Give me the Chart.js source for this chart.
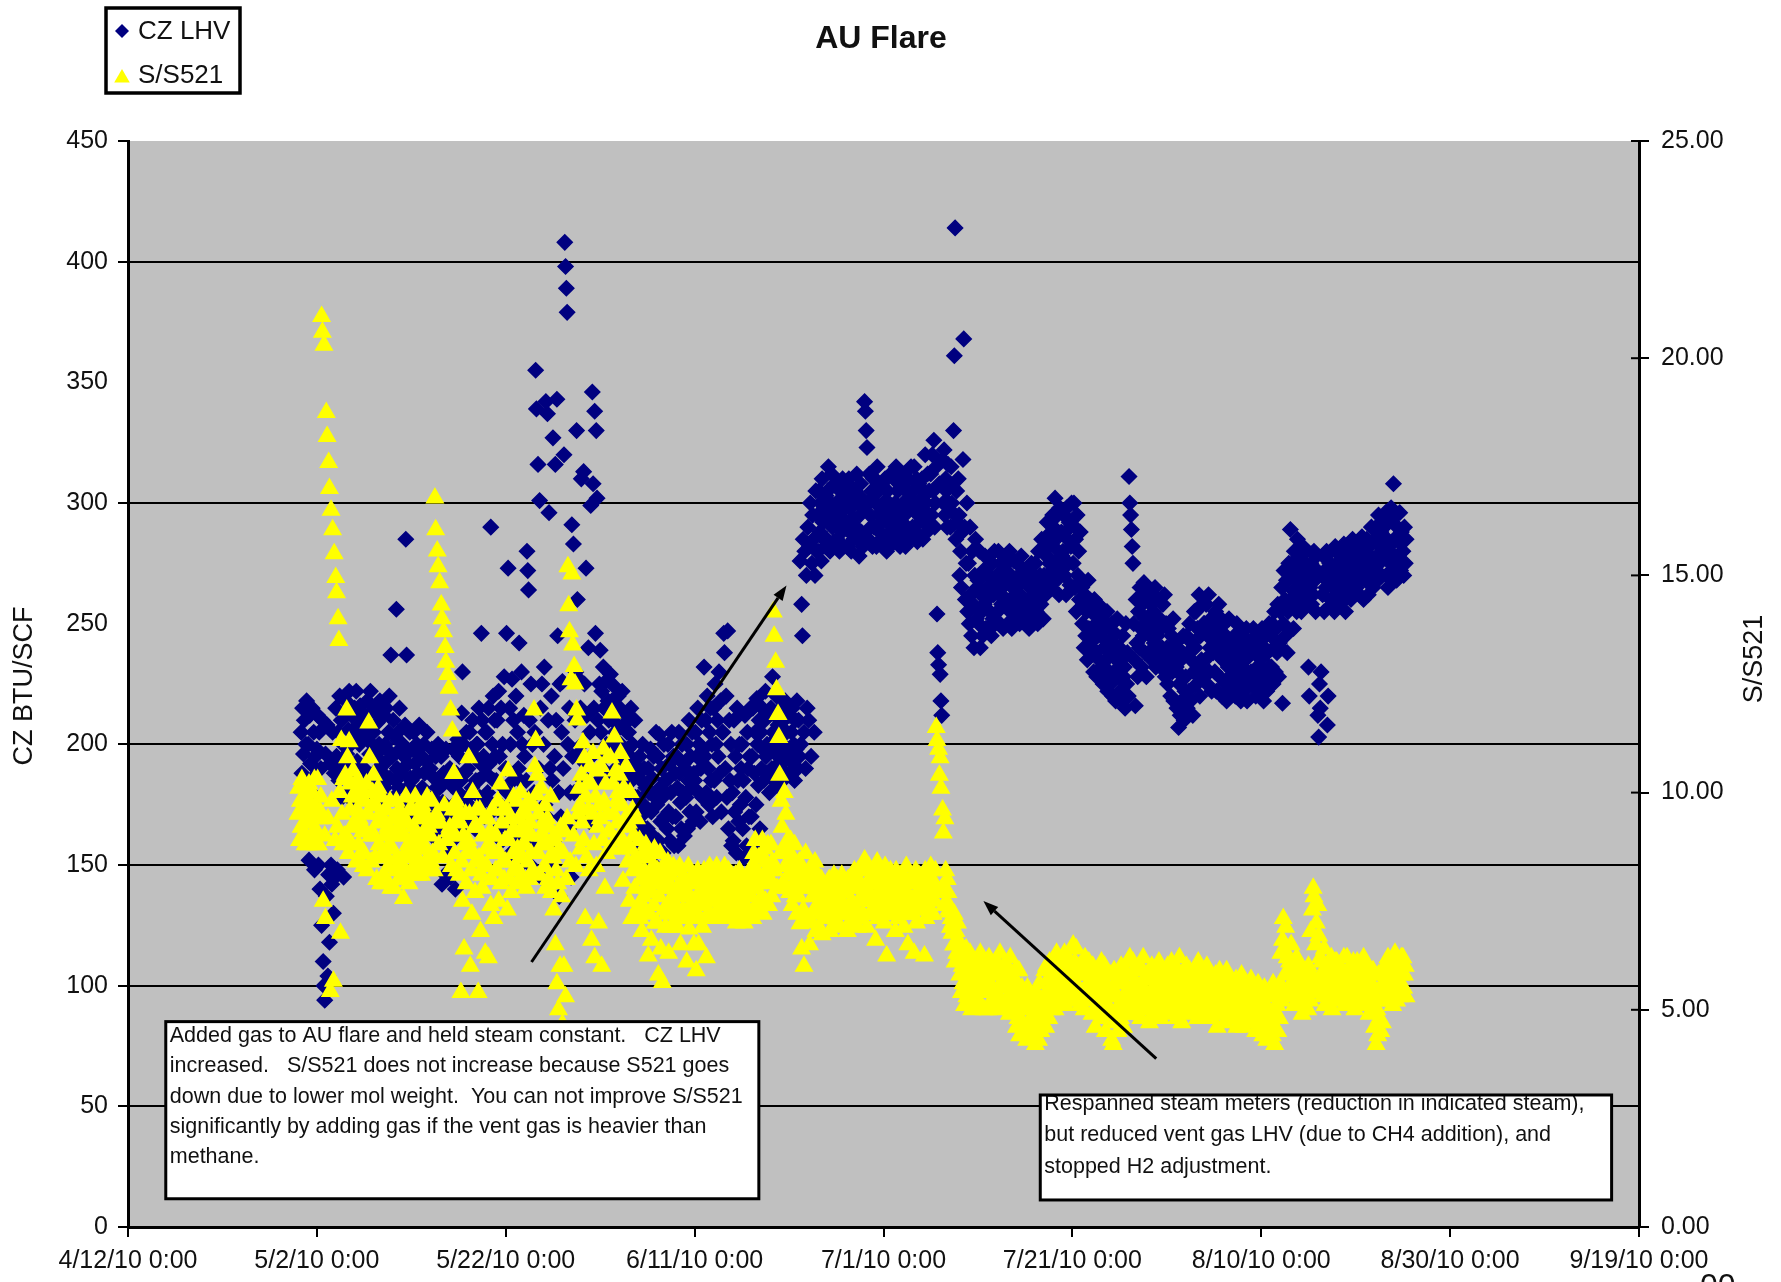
<!DOCTYPE html>
<html>
<head>
<meta charset="utf-8">
<title>AU Flare</title>
<script src="https://cdn.jsdelivr.net/npm/chart.js@4.4.1/dist/chart.umd.min.js"></script>
<style>
  html, body { margin: 0; padding: 0; background: #ffffff; }
  #frame { position: relative; width: 1781px; height: 1282px; }
</style>
</head>
<body>
<div id="frame"><canvas id="flare" width="1781" height="1282"></canvas></div>
<script>
// Readings every 2 hours; day numbers count from 4/12/10 0:00, first reading on day 18.
const firstDay = 18;
const samplesPerDay = 12;

// CZ LHV, BTU/SCF (left axis) - one row per day
const czLhv = [
  null,null,null,null,205,188,215,196,210,184,200,218,
  183,200,152,212,192,160,215,186,205,148,195,178,
  198,212,150,205,140,190,125,210,110,100,94,196,
  137,208,104,146,118,192,150,142,205,130,188,145,
  215,195,148,205,185,220,192,210,178,200,145,212,
  188,218,196,180,206,222,190,200,212,184,202,176,
  215,185,222,193,208,182,200,216,178,205,190,212,
  190,212,178,203,218,186,208,196,222,182,200,214,
  205,182,214,195,176,209,190,200,218,185,198,178,
  188,212,182,200,215,193,178,205,220,186,237,196,
  195,210,178,203,185,256,190,205,182,215,198,175,
  188,200,172,195,208,285,237,182,192,178,205,186,
  185,198,172,205,180,192,168,200,188,176,208,195,
  175,195,182,168,200,188,172,193,205,178,190,165,
  190,170,198,178,165,186,175,195,182,160,200,172,
  182,165,195,142,176,188,160,146,198,170,185,155,
  170,190,145,183,160,198,175,165,140,188,168,202,
  180,195,168,185,213,230,200,172,188,165,205,178,
  190,175,205,168,198,182,210,172,195,165,185,200,
  200,185,215,178,192,246,210,176,195,170,205,188,
  205,180,215,192,176,290,172,200,220,185,210,195,
  185,210,165,222,195,175,215,160,200,182,228,170,
  190,246,180,273,165,215,200,155,227,185,210,170,
  175,220,160,205,190,242,185,150,230,200,168,212,
  195,165,185,280,272,264,210,150,225,178,200,160,
  180,205,355,339,160,316,190,301,215,145,225,170,
  200,232,175,342,170,337,210,296,190,150,220,185,
  327,160,195,316,210,343,245,180,137,225,170,205,
  226,190,320,408,398,389,379,200,165,215,180,145,
  291,195,283,180,210,230,330,260,196,227,170,215,
  310,200,185,313,225,192,273,212,185,240,168,205,
  299,195,346,308,215,338,246,330,302,210,185,225,
  239,205,222,190,232,215,195,226,200,187,218,210,
  200,229,187,218,210,195,224,205,190,215,198,220,
  190,215,200,185,222,195,208,188,212,180,205,198,
  205,180,195,215,185,200,170,192,210,178,188,165,
  178,160,195,170,185,156,200,175,190,165,182,152,
  165,190,180,158,198,172,186,162,195,150,178,205,
  175,195,160,204,182,168,190,178,155,200,170,185,
  185,165,200,172,192,160,180,205,170,195,158,188,
  170,195,182,158,205,188,176,165,200,180,192,162,
  190,178,200,165,185,210,172,195,182,205,168,188,
  185,205,172,195,215,180,200,168,190,210,178,198,
  232,195,210,180,220,190,175,205,215,185,200,170,
  215,185,225,200,178,210,195,230,188,218,172,205,
  205,246,238,190,220,178,247,165,210,185,200,158,
  180,160,210,172,195,155,215,185,168,200,175,190,
  200,165,185,153,212,178,158,205,190,170,195,215,
  170,195,215,158,188,205,175,219,200,183,210,165,
  205,190,215,198,185,210,222,195,200,188,212,180,
  200,215,190,228,205,185,212,196,220,183,208,192,
  208,192,215,200,185,210,195,218,188,205,198,212,
  195,212,188,205,215,192,200,185,210,198,218,190,
  210,195,276,200,258,245,285,205,280,190,270,215,
  290,210,282,300,195,275,295,285,205,270,305,280,
  295,280,305,288,300,276,310,292,285,298,282,303,
  285,305,315,295,280,300,312,290,298,284,308,292,
  300,285,308,292,280,305,296,288,310,282,298,302,
  292,305,282,300,310,288,298,280,306,294,285,302,
  305,290,312,285,300,278,295,308,288,302,282,298,
  342,338,330,323,300,285,312,295,290,305,282,310,
  290,310,300,282,315,295,305,288,298,285,308,292,
  300,285,310,295,280,305,292,300,288,312,296,283,
  295,310,288,300,315,285,305,292,298,282,308,290,
  288,300,312,295,282,305,290,310,298,285,302,315,
  305,290,300,315,288,296,310,284,298,308,292,302,
  298,310,285,305,292,320,300,288,312,295,305,290,
  312,295,320,305,326,290,300,315,254,238,233,308,
  229,218,212,318,300,322,295,310,305,290,316,300,
  308,290,315,300,296,330,361,414,285,305,292,310,
  295,270,280,265,288,318,368,290,260,275,300,255,
  275,250,290,262,245,280,258,240,270,285,252,265,
  268,250,280,240,262,255,245,272,258,278,248,265,
  260,248,270,255,265,245,275,252,262,280,250,268,
  270,255,280,262,250,275,258,265,248,272,260,278,
  260,275,250,268,280,255,270,248,265,258,276,262,
  265,252,275,258,270,250,262,278,255,268,260,272,
  255,268,250,272,260,248,265,258,275,252,262,270,
  262,275,255,268,250,280,260,270,258,285,265,252,
  270,285,262,278,292,268,282,275,265,288,272,295,
  290,275,302,285,268,295,280,262,298,272,288,278,
  280,295,270,288,262,298,285,275,292,266,282,300,
  291,275,300,265,285,255,295,270,280,260,288,268,
  265,250,258,240,262,245,255,235,268,248,260,242,
  255,240,248,230,260,238,250,228,245,258,235,252,
  245,232,252,225,240,228,248,235,255,222,242,230,
  238,225,250,220,242,230,246,218,235,252,228,240,
  240,222,235,218,245,228,232,215,250,225,238,220,
  311,300,295,289,282,275,250,235,216,260,242,228,
  255,240,265,248,232,258,245,267,238,252,228,262,
  250,238,262,245,258,235,248,255,242,265,232,252,
  245,260,238,252,232,248,240,258,235,262,228,250,
  240,225,248,232,238,220,245,230,252,218,235,242,
  232,215,240,207,225,212,235,218,228,245,210,222,
  228,245,215,238,222,250,218,235,242,212,230,255,
  240,255,225,248,232,262,220,245,235,258,228,250,
  250,235,258,225,245,262,230,240,252,222,248,238,
  245,230,255,222,248,238,258,228,242,252,220,235,
  235,250,225,245,218,240,232,252,228,242,222,238,
  240,228,245,220,235,250,225,238,230,246,218,242,
  232,245,222,240,228,248,218,236,242,225,238,230,
  240,225,248,230,238,220,245,232,228,242,222,236,
  235,248,225,218,240,230,245,222,238,228,250,232,
  245,232,250,225,240,255,230,248,238,258,228,242,
  255,240,265,217,250,272,260,245,268,238,255,275,
  270,289,258,275,264,248,280,262,272,255,285,268,
  272,260,278,255,268,282,262,275,265,280,258,270,
  232,220,265,275,258,270,262,280,268,255,278,272,
  212,203,225,215,230,270,262,278,255,272,265,280,
  208,220,268,275,260,280,258,272,265,255,282,270,
  275,262,280,268,258,278,265,272,260,283,270,255,
  270,280,262,275,268,282,260,276,285,265,272,278,
  278,265,282,270,275,262,280,268,286,272,260,276,
  280,268,285,275,262,282,270,278,290,272,265,284,
  285,272,290,278,268,295,275,282,288,270,292,280,
  290,278,296,270,285,265,292,280,275,298,283,272,
  308,285,275,295,268,290,278,284,296,272,288,280,
  280,270,290,275,285,null,null,null,null,null,null,null
];

// S/S521 (right axis) - one row per day
const ssRatio = [
  9.5,10.1,8.9,9.8,9.2,10.3,9.0,9.6,9.9,8.8,10.0,9.3,
  9.9,8.8,10.2,9.3,9.7,8.9,10.0,9.4,9.1,10.3,8.8,9.6,
  9.1,10.3,8.8,9.6,9.4,9.9,20.96,20.6,7.5,20.3,9.0,7.1,
  18.75,18.2,9.4,17.6,17.0,5.42,16.5,9.8,16.05,5.66,15.5,8.9,
  14.95,14.6,9.2,14.0,13.5,10.0,6.76,11.2,9.5,8.8,10.3,9.0,
  10.4,9.0,11.9,10.8,8.6,11.17,9.6,10.2,8.8,9.9,10.5,9.3,
  9.2,10.0,8.4,9.6,10.3,8.8,9.4,9.9,8.6,10.1,9.1,8.3,
  8.6,9.8,9.1,10.2,8.2,9.5,11.6,10.8,9.0,8.4,9.7,10.0,
  10.4,9.0,8.5,9.7,8.0,9.3,10.1,8.8,9.5,7.9,9.9,8.6,
  9.4,8.1,9.0,7.9,9.6,8.5,9.2,8.3,8.8,9.8,7.8,9.1,
  8.7,9.4,7.8,9.0,8.2,9.8,8.5,9.1,8.0,9.6,8.4,9.3,
  9.5,8.3,7.56,9.0,8.6,9.9,8.1,9.3,8.8,7.9,9.6,8.5,
  8.9,9.6,8.2,9.2,8.6,9.9,8.4,9.0,8.1,9.4,8.7,9.7,
  9.4,8.1,9.7,8.8,9.1,8.3,9.5,8.7,9.9,8.5,9.2,8.2,
  9.0,8.4,9.8,8.6,9.3,8.2,16.78,16.05,9.5,15.56,15.2,8.8,
  14.83,9.3,14.32,14.0,8.5,13.7,9.7,13.34,13.0,8.9,12.72,9.1,
  12.4,9.2,11.9,8.3,11.42,9.6,10.44,8.6,9.0,9.8,8.2,9.4,
  9.6,8.1,9.3,5.4,8.4,7.5,9.0,6.4,8.8,9.5,7.9,8.6,
  8.9,10.8,9.5,6.0,8.2,7.2,10.0,8.6,9.2,7.7,8.4,9.6,
  9.2,5.4,8.5,9.6,6.8,8.1,7.8,9.0,8.3,9.4,6.3,8.7,
  8.3,9.4,6.2,8.8,9.1,7.4,8.0,9.6,8.6,7.1,9.0,8.2,
  9.0,8.2,9.8,7.5,8.6,10.2,7.9,9.3,8.4,9.6,8.0,8.9,
  8.4,9.6,7.3,10.5,8.9,8.0,9.4,7.7,9.1,8.6,9.9,8.2,
  9.1,8.3,9.8,8.7,7.9,9.4,8.5,10.0,8.1,9.2,8.8,9.6,
  8.8,9.5,7.8,9.1,8.4,9.8,8.0,9.3,8.6,9.0,8.2,9.7,
  11.9,10.6,11.2,9.95,10.4,8.6,9.5,8.1,9.0,10.1,8.8,9.3,
  9.0,8.3,9.7,7.8,8.8,9.4,8.0,9.2,8.5,9.9,7.7,8.9,
  8.5,7.3,9.0,6.5,8.2,5.6,7.9,5.0,8.7,6.0,9.2,7.6,
  4.67,8.6,6.0,9.1,5.3,8.0,9.4,15.2,14.3,13.7,8.4,12.6,
  15.03,13.4,9.0,12.9,12.5,8.3,11.9,11.67,9.5,10.1,9.7,8.7,
  10.4,9.3,11.15,8.9,10.8,7.1,9.9,8.5,10.2,9.6,8.2,10.6,
  10.2,6.6,9.5,10.9,8.8,6.2,9.9,8.3,10.5,9.2,7.0,9.7,
  9.4,10.6,6.0,8.9,11.0,9.8,7.8,10.2,8.6,9.5,10.8,9.1,
  9.1,10.8,8.7,11.83,10.2,9.5,11.28,8.9,10.5,9.8,9.3,10.0,
  10.4,9.0,10.9,8.7,9.7,7.96,10.1,8.8,9.4,10.6,9.2,8.4,
  9.3,7.5,10.0,8.7,7.1,9.6,8.2,9.0,7.8,8.5,9.4,7.3,
  8.3,7.4,8.9,7.1,8.0,6.8,8.6,7.6,8.2,7.3,8.8,7.8,
  7.9,6.24,8.5,7.2,8.1,6.6,7.7,8.3,7.4,8.7,7.0,8.0,
  7.0,8.2,5.8,7.6,8.6,6.4,7.9,5.63,8.3,7.3,7.8,6.9,
  8.0,7.2,8.4,6.3,7.5,8.1,6.9,7.8,7.3,8.3,7.0,7.7,
  7.4,8.2,6.9,7.8,7.1,8.3,6.5,7.6,8.0,7.3,7.9,7.2,
  8.0,7.2,6.1,7.7,8.3,6.86,7.4,7.9,7.1,8.1,7.5,6.5,
  7.3,8.1,5.9,7.6,8.2,6.5,7.9,7.1,7.7,8.0,6.9,7.5,
  8.2,7.4,7.9,6.2,8.0,7.2,7.7,8.3,7.5,7.1,7.8,8.1,
  7.5,8.0,7.2,7.8,8.3,7.1,7.6,8.1,7.4,7.9,7.3,8.2,
  7.8,7.2,8.3,7.5,8.0,7.1,7.7,8.2,7.4,7.9,7.3,8.1,
  7.4,8.0,7.2,7.8,8.1,7.0,7.6,7.9,7.3,8.2,7.5,7.7,
  8.0,7.3,7.7,7.0,7.9,7.4,8.0,7.2,7.6,8.1,7.1,7.8,
  7.6,8.3,7.1,8.6,7.8,8.9,7.4,8.2,7.9,8.5,7.3,8.0,
  8.5,7.6,8.9,7.2,8.1,8.7,7.5,8.4,7.9,8.8,7.4,8.2,
  8.0,8.8,7.6,8.4,14.16,13.6,8.2,13.0,12.37,7.8,11.8,11.27,
  10.4,8.6,9.8,9.2,7.9,8.7,10.0,8.3,9.5,7.8,8.9,8.1,
  8.6,7.7,8.9,8.2,7.4,8.5,7.9,8.8,7.6,8.3,7.2,8.0,
  7.6,8.4,6.98,7.9,6.4,8.2,7.3,6.0,7.8,8.6,7.1,8.1,
  8.1,7.1,6.5,7.8,8.3,7.0,7.6,8.0,7.3,8.4,6.8,7.7,
  7.4,8.07,6.9,7.7,7.2,8.0,6.73,7.5,7.9,7.1,7.6,7.3,
  7.9,7.1,7.6,8.0,6.8,7.4,7.8,7.2,7.5,8.1,7.0,7.7,
  7.6,8.0,7.0,7.5,6.9,7.8,7.3,8.1,7.2,7.7,7.4,7.9,
  7.2,7.7,6.8,8.0,7.4,7.0,7.9,7.5,7.1,7.8,7.3,8.2,
  8.0,7.3,7.8,6.9,8.2,7.5,7.1,7.9,7.6,8.3,7.2,7.7,
  8.45,7.6,8.2,6.9,7.8,8.3,7.2,8.0,7.5,8.1,7.3,7.9,
  7.5,8.2,6.6,7.9,8.4,7.1,7.7,8.1,7.3,8.0,7.6,7.2,
  7.8,7.0,8.3,7.4,6.24,7.9,8.1,7.2,7.6,8.2,7.3,7.7,
  8.0,7.3,7.7,6.8,8.2,7.5,7.9,7.1,7.6,8.1,7.4,7.8,
  7.4,8.1,6.9,7.8,7.2,8.3,7.6,6.5,7.9,7.3,8.0,7.5,
  7.9,7.2,8.0,6.3,7.6,8.2,7.0,7.7,7.4,8.1,7.3,7.8,
  7.3,8.0,7.5,7.9,6.24,8.2,7.1,7.8,7.4,8.1,7.6,7.2,
  8.3,7.6,8.0,7.2,7.9,7.5,8.2,11.5,11.2,7.7,11.0,10.4,
  10.8,10.1,7.8,9.6,9.07,7.4,9.4,8.2,7.5,8.0,7.7,7.3,
  7.25,6.9,7.1,6.76,7.0,6.49,7.2,6.1,6.8,6.3,7.0,6.6,
  6.3,5.8,6.5,5.4,6.0,5.6,6.2,5.1,5.9,6.4,5.3,5.7,
  5.9,5.3,6.3,5.6,5.0,6.1,5.5,5.8,5.2,6.0,5.4,5.7,
  5.2,6.0,5.6,6.3,5.1,5.8,5.4,6.1,5.0,5.7,5.5,5.9,
  5.7,5.0,6.2,5.4,5.9,5.2,6.0,5.5,5.8,5.1,6.1,5.3,
  6.1,5.3,5.8,5.0,6.3,5.6,5.2,5.9,5.5,6.0,5.1,5.7,
  5.5,6.0,5.1,5.7,4.9,6.2,5.4,5.8,5.2,5.6,5.0,5.9,
  5.2,4.6,5.6,4.8,5.9,4.4,5.3,5.0,5.5,4.7,5.1,5.4,
  4.5,5.2,4.3,5.5,4.7,5.0,4.4,5.3,4.8,5.1,4.6,4.9,
  4.8,4.2,5.4,4.6,5.1,4.3,5.6,4.9,4.5,5.2,4.7,5.0,
  5.3,5.9,4.6,6.0,5.2,5.7,4.8,6.1,5.5,5.0,5.8,5.4,
  5.6,6.2,5.0,5.8,6.3,5.3,5.9,5.5,6.0,5.2,5.7,6.1,
  6.0,5.4,6.3,5.1,5.8,6.2,5.5,5.9,5.3,6.1,5.6,5.2,
  5.7,6.49,5.2,6.1,5.6,6.4,5.3,5.9,5.5,6.0,5.1,5.8,
  6.0,5.3,5.8,5.0,6.2,5.5,5.9,5.2,5.6,6.1,5.4,5.7,
  5.6,4.9,6.0,5.3,5.7,4.6,5.9,5.1,5.4,5.8,5.0,5.5,
  5.4,6.1,4.8,5.7,5.2,6.0,4.5,5.5,5.0,5.8,4.9,5.3,
  5.0,5.8,4.3,5.5,4.2,5.9,4.7,5.3,4.9,5.6,4.5,5.1,
  5.6,4.8,6.0,5.2,5.7,4.6,5.9,5.1,5.4,5.0,5.8,4.9,
  5.4,6.2,5.0,5.8,5.3,6.1,4.9,5.6,5.2,5.9,5.5,5.1,
  5.9,5.2,6.0,4.8,5.6,5.1,6.2,5.4,5.0,5.7,5.3,5.8,
  5.0,5.7,4.7,5.9,5.3,6.0,4.9,5.5,5.2,5.8,5.1,5.6,
  5.8,5.1,6.1,5.4,4.8,5.9,5.2,5.6,5.0,5.7,5.3,5.5,
  5.3,6.0,5.0,5.7,4.9,5.5,6.1,5.2,5.6,5.1,5.8,5.4,
  5.6,4.8,5.9,5.3,6.2,5.0,5.8,4.7,5.4,5.1,5.7,5.2,
  5.4,6.0,5.1,5.7,4.9,5.9,5.3,5.6,5.0,5.8,5.2,5.5,
  5.9,5.2,5.6,4.8,6.1,5.4,5.0,5.8,5.3,5.7,5.1,5.5,
  5.2,5.7,4.9,6.0,5.4,5.1,5.8,4.8,5.5,5.3,5.6,5.0,
  5.5,4.9,5.8,5.2,4.6,5.6,5.0,5.9,5.3,5.1,5.7,5.4,
  5.1,5.6,4.7,5.3,5.9,4.9,5.4,5.0,5.7,5.2,5.5,4.8,
  5.6,4.8,5.3,5.0,5.7,4.6,5.2,5.5,4.9,5.4,5.1,5.8,
  4.9,5.4,4.6,5.2,5.6,4.8,5.3,5.0,5.5,4.7,5.1,5.7,
  5.3,4.7,5.5,4.9,5.1,4.5,5.4,5.0,5.6,4.8,5.2,4.6,
  4.8,5.2,4.4,5.0,5.5,4.6,5.1,4.3,4.9,5.3,4.7,5.4,
  4.7,5.3,4.4,5.6,5.0,4.2,5.4,4.9,5.1,4.5,5.5,4.8,
  5.6,6.3,5.2,6.6,7.1,6.4,5.8,6.9,5.4,6.2,5.9,5.3,
  6.1,5.5,6.5,5.3,6.0,5.7,5.1,5.9,5.4,6.2,5.6,5.2,
  5.4,6.0,5.2,5.7,4.9,5.9,5.3,5.6,5.1,5.8,5.5,5.0,
  6.0,5.5,5.2,6.8,5.8,7.3,7.8,7.6,5.6,6.5,7.0,5.4,
  7.4,6.7,5.5,6.2,5.7,6.1,5.3,5.9,6.4,5.1,5.8,5.6,
  5.5,6.0,5.2,5.8,5.4,6.2,5.0,5.7,5.9,5.3,6.1,5.6,
  6.1,5.4,5.8,5.2,6.0,5.5,5.9,5.3,5.7,6.2,5.1,5.6,
  5.6,6.2,5.3,5.9,5.5,6.0,5.2,5.8,5.4,6.1,5.7,5.0,
  5.9,5.4,6.1,5.6,5.3,6.0,5.5,5.8,5.2,5.7,6.2,5.1,
  5.7,5.2,6.0,5.4,5.8,4.9,5.5,5.1,5.6,5.3,5.9,5.0,
  4.6,5.3,4.2,5.0,4.4,5.8,4.8,5.5,4.5,5.2,4.7,5.6,
  5.6,6.0,5.3,5.8,5.2,6.2,5.5,5.9,5.4,6.1,5.7,5.1,
  6.0,5.4,6.3,5.7,5.2,6.1,5.6,5.9,5.3,5.8,6.2,5.5,
  6.2,5.5,5.8,6.0,5.3,null,null,null,null,null,null,null
];

// Date labels every 20 days from 4/12/10
const dateLabels = ['4/12/10 0:00', '5/2/10 0:00', '5/22/10 0:00', '6/11/10 0:00', '7/1/10 0:00',
                    '7/21/10 0:00', '8/10/10 0:00', '8/30/10 0:00', '9/19/10 0:00'];

// Left-axis levels carrying a horizontal grid line, and levels shown without a tick mark
const gridLevels = [50, 100, 150, 200, 300, 400];
const bareTicks = [250, 350];

const noteLeftLines = [
  'Added gas to AU flare and held steam constant.   CZ LHV',
  'increased.   S/S521 does not increase because S521 goes',
  'down due to lower mol weight.  You can not improve S/S521',
  'significantly by adding gas if the vent gas is heavier than',
  'methane.'
];
const noteRightLines = [
  'Respanned steam meters (reduction in indicated steam),',
  'but reduced vent gas LHV (due to CH4 addition), and',
  'stopped H2 adjustment.'
];

// ---- drawing setup ----
const FONT = '"Liberation Sans", Arial, Helvetica, sans-serif';
const NAVY = '#000080';
const YELLOW = '#ffff00';
const PLOT_GRAY = '#c0c0c0';
const INK = '#111111';

// Text boxes and arrows, placed in (day, BTU/SCF) coordinates
const noteBoxes = [
  { corner: [4.0, 85.1], far: [66.8, 11.7], lines: noteLeftLines, inset: 4, firstBaseline: 20.5, step: 30.2 },
  { corner: [96.6, 54.7], far: [157.1, 11.2], lines: noteRightLines, inset: 4, firstBaseline: 15, step: 31.5 }
];
const noteArrows = [
  { tail: [42.73, 109.8], tip: [69.73, 265.8] },
  { tail: [108.88, 69.8], tip: [90.58, 135.1] }
];

function toPoints(values) {
  const pts = [];
  values.forEach((v, i) => {
    if (v !== null) pts.push({ x: firstDay + i / samplesPerDay, y: v });
  });
  return pts;
}

function drawDiamond(ctx, x, y, r) {
  ctx.beginPath();
  ctx.moveTo(x - r, y); ctx.lineTo(x, y - r); ctx.lineTo(x + r, y); ctx.lineTo(x, y + r);
  ctx.closePath(); ctx.fill();
}
function drawTriangle(ctx, x, y, r) {
  ctx.beginPath();
  ctx.moveTo(x, y - r); ctx.lineTo(x + r * 0.866, y + r / 2); ctx.lineTo(x - r * 0.866, y + r / 2);
  ctx.closePath(); ctx.fill();
}
function drawArrow(ctx, x1, y1, x2, y2) {
  const a = Math.atan2(y2 - y1, x2 - x1), head = 15, half = 5.5;
  const bx = x2 - head * Math.cos(a), by = y2 - head * Math.sin(a);
  ctx.strokeStyle = '#000'; ctx.lineWidth = 3; ctx.lineCap = 'butt';
  ctx.beginPath(); ctx.moveTo(x1, y1); ctx.lineTo(bx, by); ctx.stroke();
  ctx.fillStyle = '#000';
  ctx.beginPath();
  ctx.moveTo(x2, y2);
  ctx.lineTo(bx - half * Math.sin(a), by + half * Math.cos(a));
  ctx.lineTo(bx + half * Math.sin(a), by - half * Math.cos(a));
  ctx.closePath(); ctx.fill();
}

const decor = {
  id: 'decor',
  beforeDraw(chart) {
    const { ctx, chartArea: a } = chart;
    ctx.save();
    ctx.fillStyle = '#ffffff';
    ctx.fillRect(0, 0, chart.width, chart.height);
    ctx.fillStyle = PLOT_GRAY;
    ctx.fillRect(a.left, a.top, a.right - a.left, a.bottom - a.top);
    ctx.restore();
  },
  afterDatasetsDraw(chart) {
    const { ctx, scales } = chart;
    const sx = scales.x, sy = scales.y, s2 = scales.y2;
    ctx.save();
    // right-axis tick marks also reach into the plot
    ctx.strokeStyle = '#000'; ctx.lineWidth = 2;
    s2.ticks.forEach(t => {
      const py = s2.getPixelForValue(t.value);
      ctx.beginPath(); ctx.moveTo(s2.left - 8, py); ctx.lineTo(s2.left, py); ctx.stroke();
    });
    // arrows
    noteArrows.forEach(ar => {
      drawArrow(ctx, sx.getPixelForValue(ar.tail[0]), sy.getPixelForValue(ar.tail[1]),
                sx.getPixelForValue(ar.tip[0]), sy.getPixelForValue(ar.tip[1]));
    });
    // text boxes
    noteBoxes.forEach(nb => {
      const x0 = sx.getPixelForValue(nb.corner[0]), y0 = sy.getPixelForValue(nb.corner[1]);
      const x1 = sx.getPixelForValue(nb.far[0]), y1 = sy.getPixelForValue(nb.far[1]);
      ctx.fillStyle = '#ffffff';
      ctx.fillRect(x0, y0, x1 - x0, y1 - y0);
      ctx.save();
      ctx.beginPath(); ctx.rect(x0, y0, x1 - x0, y1 - y0); ctx.clip();
      ctx.fillStyle = INK;
      ctx.font = '21.5px ' + FONT;
      ctx.textAlign = 'left'; ctx.textBaseline = 'alphabetic';
      nb.lines.forEach((ln, i) => ctx.fillText(ln, x0 + nb.inset, y0 + nb.firstBaseline + i * nb.step));
      ctx.restore();
      ctx.strokeStyle = '#000'; ctx.lineWidth = 3;
      ctx.strokeRect(x0, y0, x1 - x0, y1 - y0);
    });
    ctx.restore();
  },
  afterDraw(chart) {
    const { ctx } = chart;
    ctx.save();
    ctx.fillStyle = INK;
    // title
    ctx.font = 'bold 32px ' + FONT;
    ctx.textAlign = 'center'; ctx.textBaseline = 'alphabetic';
    ctx.fillText('AU Flare', 881, 48);
    // legend box
    ctx.fillStyle = '#ffffff';
    ctx.fillRect(106, 8, 134, 85);
    ctx.strokeStyle = '#000'; ctx.lineWidth = 3.5;
    ctx.strokeRect(106, 8, 134, 85);
    ctx.fillStyle = NAVY; drawDiamond(ctx, 122, 31, 7);
    ctx.fillStyle = YELLOW; drawTriangle(ctx, 122, 78, 9);
    ctx.fillStyle = INK;
    ctx.font = '26px ' + FONT;
    ctx.textAlign = 'left'; ctx.textBaseline = 'middle';
    ctx.fillText('CZ LHV', 138, 32);
    ctx.fillText('S/S521', 138, 76);
    // axis titles
    ctx.font = '27px ' + FONT;
    ctx.textAlign = 'center'; ctx.textBaseline = 'middle';
    ctx.save(); ctx.translate(25, 686); ctx.rotate(-Math.PI / 2); ctx.fillText('CZ BTU/SCF', 0, 0); ctx.restore();
    ctx.save(); ctx.translate(1755, 659); ctx.rotate(-Math.PI / 2); ctx.fillText('S/S521', 0, 0); ctx.restore();
    // page number running off the lower edge
    ctx.font = '32px ' + FONT;
    ctx.textAlign = 'left'; ctx.textBaseline = 'alphabetic';
    ctx.fillText('00', 1700, 1296);
    ctx.restore();
  }
};

const tickFont = { family: FONT, size: 25 };
const hidden = 'rgba(0,0,0,0)';

new Chart(document.getElementById('flare'), {
  type: 'scatter',
  data: {
    datasets: [
      {
        label: 'CZ LHV', data: toPoints(czLhv), yAxisID: 'y', order: 1,
        pointStyle: 'rectRot', pointRadius: 7.5, pointHoverRadius: 7.5,
        backgroundColor: NAVY, borderColor: NAVY, borderWidth: 1.5
      },
      {
        label: 'S/S521', data: toPoints(ssRatio), yAxisID: 'y2', order: 0,
        pointStyle: 'triangle', pointRadius: 9.5, pointHoverRadius: 9.5,
        backgroundColor: YELLOW, borderColor: YELLOW, borderWidth: 1.5
      }
    ]
  },
  options: {
    responsive: false,
    animation: false,
    devicePixelRatio: 1,
    events: [],
    layout: { padding: { top: 141, left: 0, right: 0, bottom: 0 } },
    plugins: { legend: { display: false }, title: { display: false }, tooltip: { enabled: false } },
    scales: {
      x: {
        type: 'linear', position: 'bottom', min: 0, max: 160,
        afterFit(s) { s.height = 55; },
        border: { display: true, color: '#000', width: 3 },
        grid: { drawOnChartArea: false, color: '#000', lineWidth: 2, tickLength: 10 },
        ticks: {
          stepSize: 20, autoSkip: false, maxRotation: 0, minRotation: 0, padding: 9,
          color: INK, font: tickFont,
          callback: v => dateLabels[Math.round(v / 20)]
        }
      },
      y: {
        type: 'linear', position: 'left', min: 0, max: 450,
        afterFit(s) { s.width = 128; },
        border: { display: true, color: '#000', width: 3 },
        grid: {
          lineWidth: 2, tickLength: 10,
          color: c => (c.tick && gridLevels.includes(c.tick.value)) ? '#000' : hidden,
          tickColor: c => (c.tick && bareTicks.includes(c.tick.value)) ? hidden : '#000'
        },
        ticks: { stepSize: 50, padding: 10, color: INK, font: tickFont }
      },
      y2: {
        type: 'linear', position: 'right', min: 0, max: 25,
        afterFit(s) { s.width = 142; },
        border: { display: true, color: '#000', width: 3 },
        grid: { drawOnChartArea: false, color: '#000', lineWidth: 2, tickLength: 10 },
        ticks: { stepSize: 5, padding: 12, color: INK, font: tickFont, callback: v => v.toFixed(2) }
      }
    }
  },
  plugins: [decor]
});
</script>
</body>
</html>
